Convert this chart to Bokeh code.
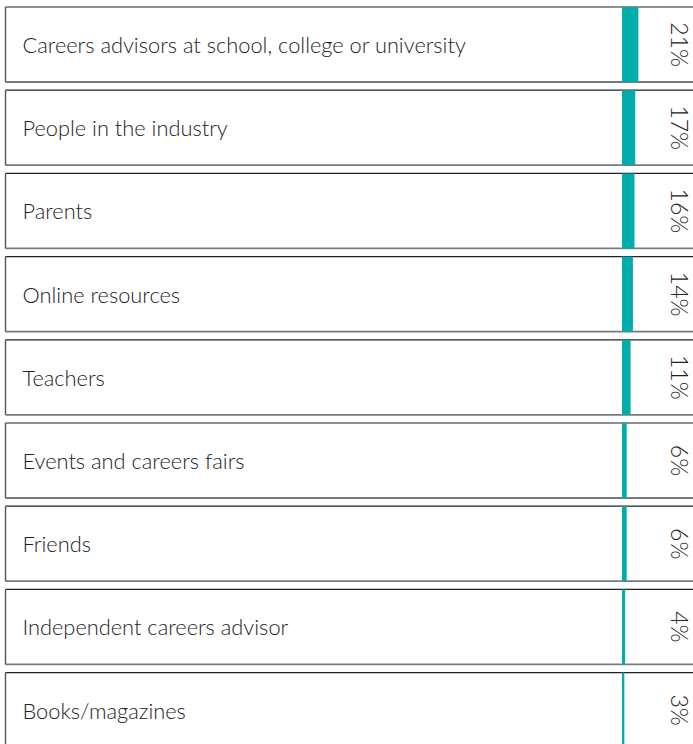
import math
from bokeh.plotting import figure
from bokeh.models import Range1d, ColumnDataSource
from bokeh.core.properties import value
from bokeh.embed import file_html
from bokeh.resources import INLINE

categories = [
    "Careers advisors at school, college or university",
    "People in the industry",
    "Parents",
    "Online resources",
    "Teachers",
    "Events and careers fairs",
    "Friends",
    "Independent careers advisor",
    "Books/magazines",
]
values = [21, 17, 16, 14, 11, 6, 6, 4, 3]
labels = [f"{v}%" for v in values]

# layout constants (pixels)
W, H = 693, 744
PITCH = 83.2          # px per row
ROW0_CENTER = 44.0    # px, center of first row
BOX_H = 75.0          # px
BAR_X0 = 621.5        # px where bars start
PX_PER_PCT = 0.78     # px per percentage point
BOX_LEFT_PX = 5.0
LABEL_X_PX = 22.0
PCT_X_PX = 679.0

FONT = value("'Lato Light', 'Lato', sans-serif")

def px_to_x(px):
    return (px - BAR_X0) / PX_PER_PCT

n = len(categories)
idx = list(range(n))
half = BOX_H / PITCH / 2.0

src = ColumnDataSource(dict(
    y=idx,
    top=[i - half for i in idx],
    bottom=[i + half for i in idx],
    val=values,
    cat=categories,
    lab=labels,
    zero=[0] * n,
))

p = figure(
    width=W, height=H,
    x_range=Range1d(px_to_x(0), px_to_x(W)),
    y_range=Range1d((H - ROW0_CENTER) / PITCH, -ROW0_CENTER / PITCH),
    output_backend="svg", toolbar_location=None,
    x_axis_location=None, y_axis_location=None,
    min_border=0, outline_line_color=None,
)
p.grid.visible = False
p.background_fill_color = "white"
p.border_fill_color = "white"

xl = px_to_x(BOX_LEFT_PX)
xr = px_to_x(W + 20)

# box fills
p.quad(left=xl, right=xr, top="top", bottom="bottom", source=src,
       fill_color="white", line_color=None)
# top borders (black)
p.segment(x0=xl, x1=xr, y0="top", y1="top", source=src,
          line_color="#222222", line_width=1.2)
# bottom borders (grey)
p.segment(x0=xl, x1=xr, y0="bottom", y1="bottom", source=src,
          line_color="#7a7a7a", line_width=1.8)
# left borders
p.segment(x0=xl, x1=xl, y0="top", y1="bottom", source=src,
          line_color="#555555", line_width=1.4)

# bars
p.quad(left="zero", right="val", top="top", bottom="bottom", source=src,
       fill_color="#00ADAB", line_color=None)

# category labels
p.text(x=px_to_x(LABEL_X_PX), y="y", text="cat", source=src,
       text_font=FONT, text_font_size="21.8px", text_color="#222222",
       text_align="left", text_baseline="middle")

# percentage labels (rotated clockwise)
p.text(x=px_to_x(PCT_X_PX), y="y", text="lab", source=src, angle=-math.pi / 2,
       text_font=FONT, text_font_size="23px", text_color="#222222",
       text_align="center", text_baseline="middle")

open("out.html", "w").write(file_html(p, INLINE))
